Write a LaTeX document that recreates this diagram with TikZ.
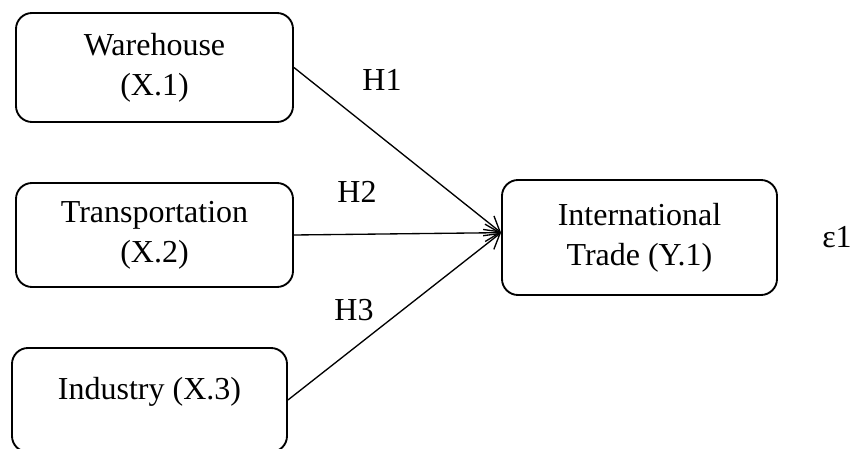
\documentclass[tikz,border=0pt]{standalone}
\usepackage{fontspec}
\setmainfont{Liberation Serif}
\usetikzlibrary{arrows.meta}

\begin{document}
\begin{tikzpicture}[x=0.75pt,y=-0.75pt,
  varbox/.style={draw,line width=1.4pt,rounded corners=12pt,align=center,inner sep=0pt,font=\fontsize{24}{30}\selectfont},
  arr/.style={-{Straight Barb[length=11pt,width=13pt]},line width=1pt},
  hyp/.style={font=\fontsize{24}{28}\selectfont}]
\useasboundingbox (0,0) rectangle (854,449);
\node[varbox,minimum width=207.75pt,minimum height=81.75pt] (wh) at (154.5,67.5) {Warehouse\\(X.1)};
\node[varbox,minimum width=207.75pt,minimum height=78pt] (tr) at (154.5,235) {Transportation\\(X.2)};
\node[varbox,minimum width=206.25pt,minimum height=78pt,text depth=18pt] (ind) at (149.5,400) {Industry (X.3)};
\node[varbox,minimum width=206.25pt,minimum height=86.25pt] (it) at (639.5,237.5) {International\\Trade (Y.1)};
\draw[arr] (wh.east) -- (it.178);
\draw[arr] (tr.east) -- (it.178);
\draw[arr] (ind.east) -- (it.178);
\node[hyp] (h1) at (382,80) {H1};
\node[hyp] (h2) at (357,192) {H2};
\node[hyp] (h3) at (354,310) {H3};
\node[hyp] (eps) at (837,237) {ε1};
\end{tikzpicture}
\end{document}
